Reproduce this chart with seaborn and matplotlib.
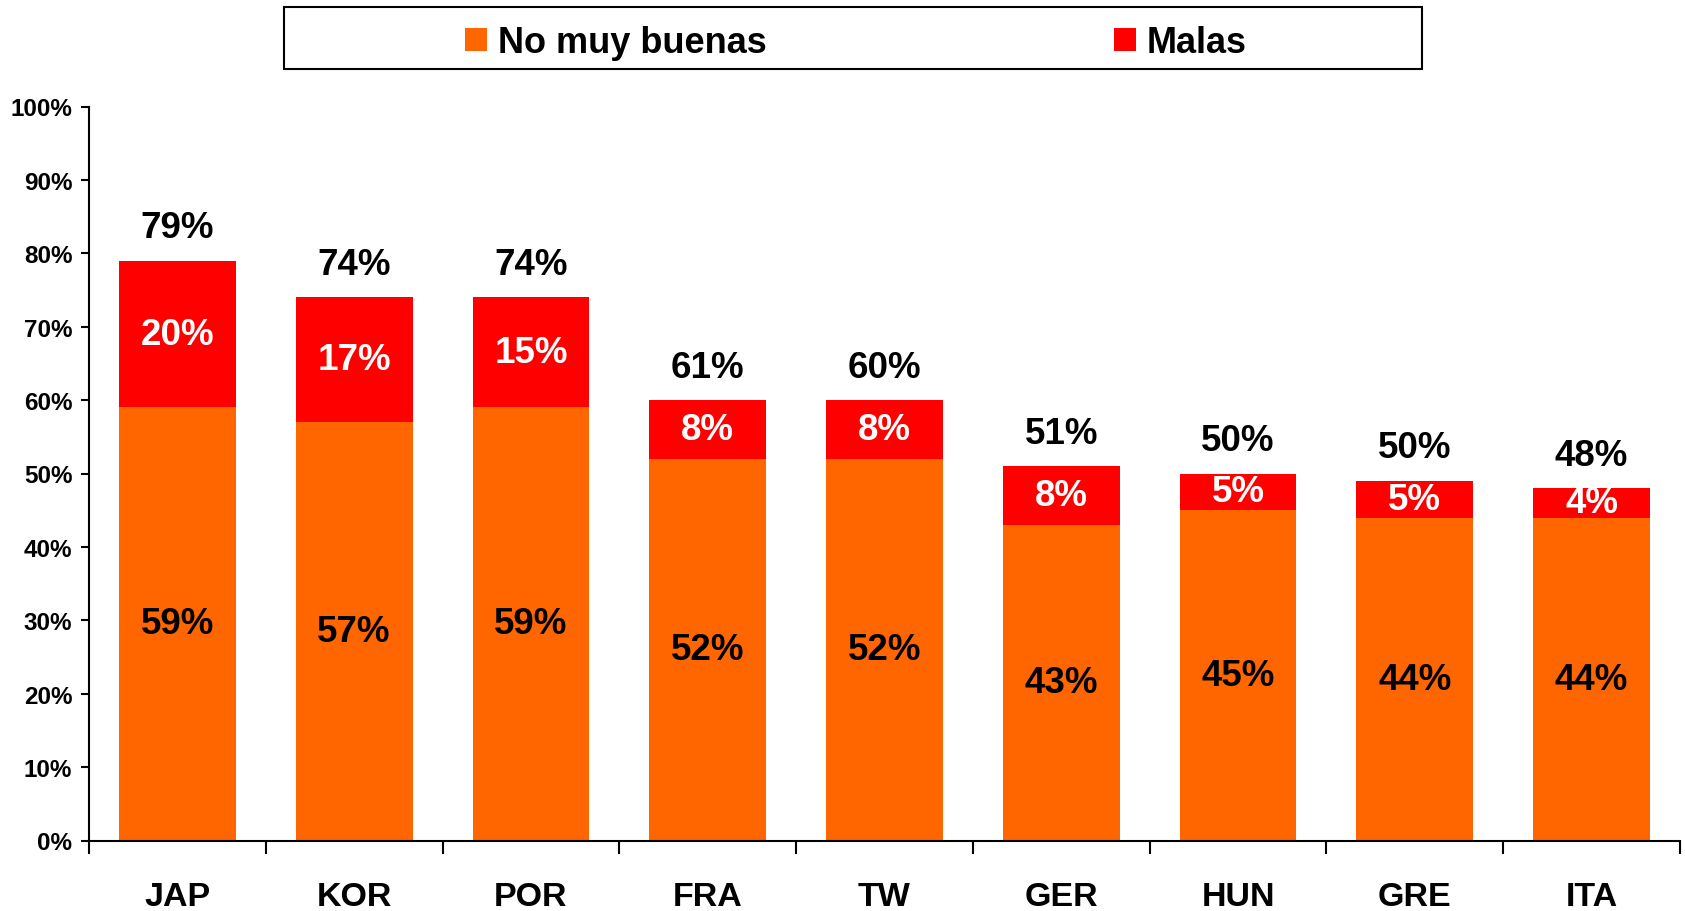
import matplotlib
matplotlib.use("Agg")
import matplotlib.pyplot as plt
import seaborn as sns
import pandas as pd
from matplotlib.patches import Rectangle
from matplotlib.ticker import FixedLocator

# ---- data ----
countries = ["JAP", "KOR", "POR", "FRA", "TW", "GER", "HUN", "GRE", "ITA"]
no_muy_buenas = [59, 57, 59, 52, 52, 43, 45, 44, 44]
malas = [20, 17, 15, 8, 8, 8, 5, 5, 4]
total_labels = [79, 74, 74, 61, 60, 51, 50, 50, 48]
yticks = [0, 10, 20, 30, 40, 50, 60, 70, 80, 90, 100]
ytick_labels = [f"{v}%" for v in yticks]
series_names = ["No muy buenas", "Malas"]

ORANGE = "#FF6600"
RED = "#FF0000"

sns.set_theme(style="white")
plt.rcParams["font.family"] = ["Liberation Sans", "DejaVu Sans"]
plt.rcParams["font.weight"] = "bold"
plt.rcParams["text.color"] = "black"
plt.rcParams["xtick.color"] = "black"
plt.rcParams["ytick.color"] = "black"
plt.rcParams["axes.labelcolor"] = "black"

df = pd.DataFrame({
    "country": countries,
    "bottom": no_muy_buenas,
    "top": malas,
})
df["stack"] = df["bottom"] + df["top"]

fig = plt.figure(figsize=(16.85, 9.12), dpi=100)
ax = fig.add_axes([89 / 1685, 70.5 / 912, (1680 - 89) / 1685, (841.5 - 107.5) / 912])

sns.barplot(data=df, x="country", y="stack", order=countries, color=RED,
            saturation=1, width=0.66, ax=ax, label=series_names[1])
sns.barplot(data=df, x="country", y="bottom", order=countries, color=ORANGE,
            saturation=1, width=0.66, ax=ax, label=series_names[0])
if ax.get_legend() is not None:
    ax.get_legend().remove()
for cont in ax.containers:
    for b in cont:
        b.set_edgecolor("none")
        b.set_linewidth(0)

ax.set_xlim(-0.5, len(countries) - 0.5)
ax.set_ylim(0, 100)
ax.set_xlabel("")
ax.set_ylabel("")

# data labels
for i in range(len(countries)):
    b = no_muy_buenas[i]
    t = malas[i]
    ax.text(i, b / 2, f"{b}%", ha="center", va="center", fontsize=26.5,
            fontweight="bold", color="black")
    ax.text(i, b + t / 2, f"{t}%", ha="center", va="center", fontsize=26.5,
            fontweight="bold", color="white")
    ax.text(i, b + t + 4.5, f"{total_labels[i]}%", ha="center", va="center",
            fontsize=26.5, fontweight="bold", color="black")

# axes styling
for s in ["top", "right"]:
    ax.spines[s].set_visible(False)
for s in ["left", "bottom"]:
    ax.spines[s].set_color("black")
    ax.spines[s].set_linewidth(1.5)

ax.set_yticks(yticks)
ax.set_yticklabels(ytick_labels)
ax.tick_params(axis="y", which="major", direction="out", length=6, width=1.5,
               color="black", pad=6, labelsize=17.5, left=True)
ax.set_xticks(range(len(countries)))
ax.set_xticklabels(countries)
ax.tick_params(axis="x", which="major", length=0, pad=29, labelsize=24.5)
ax.xaxis.set_minor_locator(FixedLocator([i - 0.5 for i in range(len(countries) + 1)]))
ax.tick_params(axis="x", which="minor", direction="out", length=9, width=1.5,
               color="black", bottom=True)
for lab in ax.get_xticklabels() + ax.get_yticklabels():
    lab.set_fontweight("bold")
    lab.set_color("black")

# legend with a manual frame
handles = [ax.containers[1], ax.containers[0]]
leg = fig.legend(handles, series_names, loc="center",
                 bbox_to_anchor=(856 / 1685, 1 - 43.5 / 912), ncol=2,
                 frameon=False, handlelength=0.62,
                 handleheight=0.62, handletextpad=0.3, columnspacing=9.6,
                 prop={"weight": "bold", "size": 26})
for txt in leg.get_texts():
    txt.set_color("black")
fig.patches.append(Rectangle((284 / 1685, 1 - 70 / 912), (1422 - 284) / 1685,
                             (70 - 7.5) / 912, transform=fig.transFigure,
                             fill=False, edgecolor="black", linewidth=1.5))

fig.savefig("out.png", dpi=100)
